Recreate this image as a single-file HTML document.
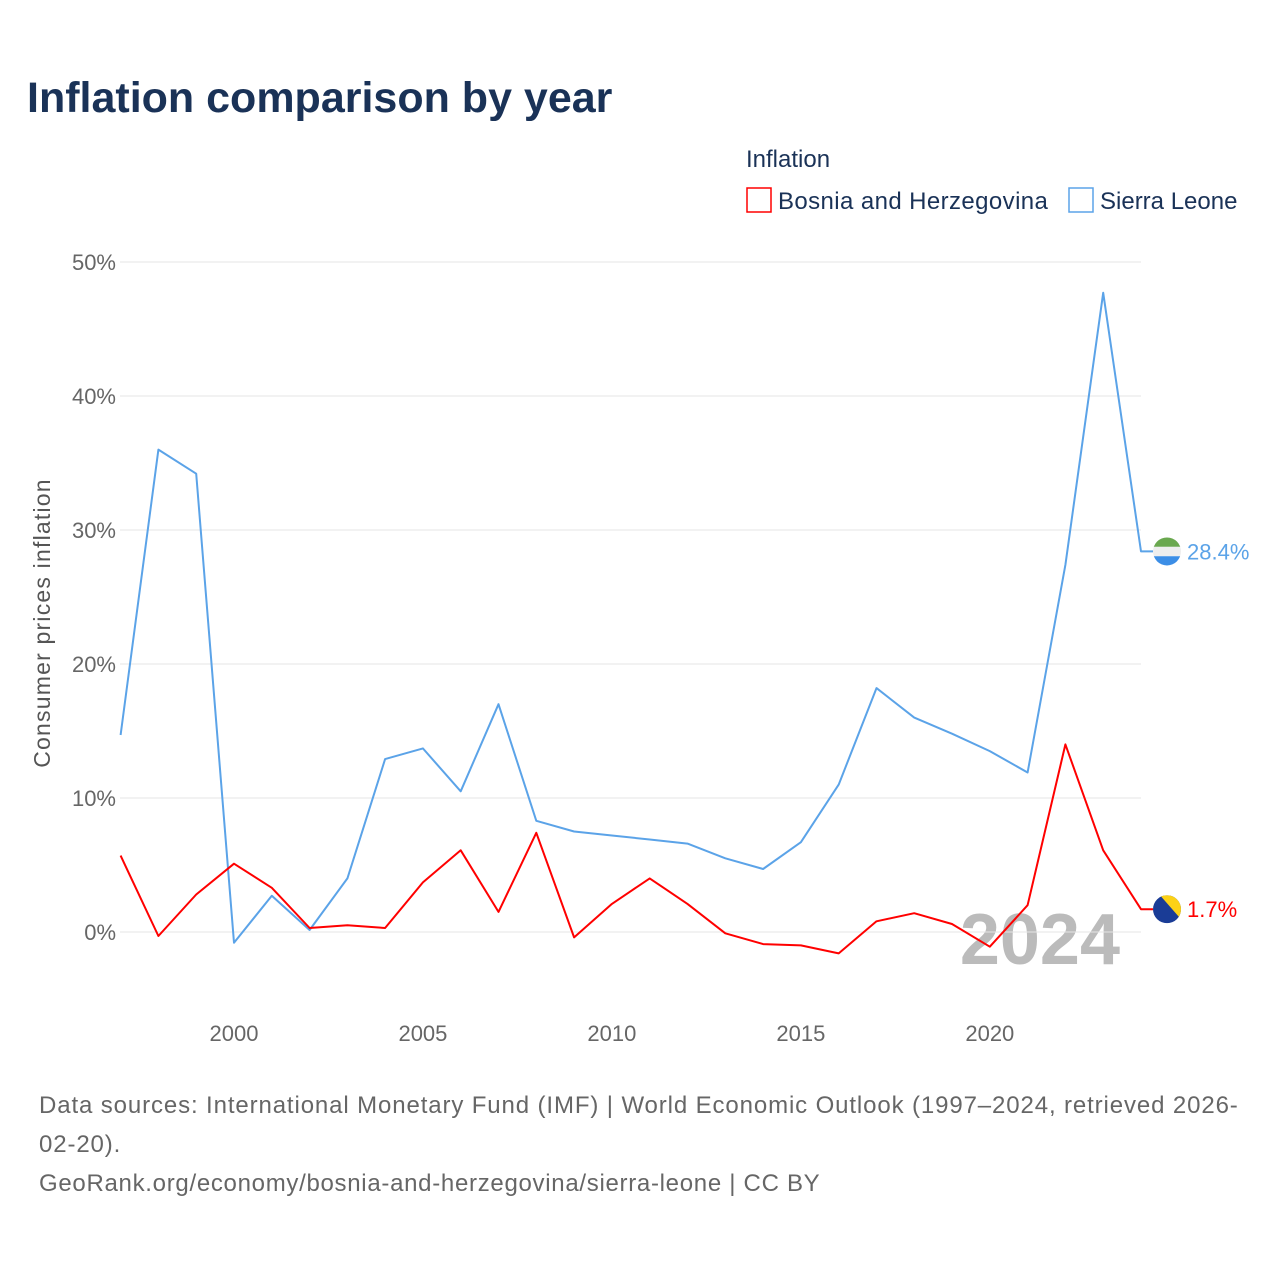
<!DOCTYPE html>
<html><head><meta charset="utf-8"><style>
body{margin:0;width:1280px;height:1280px;background:#fff;font-family:"Liberation Sans",sans-serif;overflow:hidden}
</style></head><body>
<svg id="chart" width="1280" height="1280" xmlns="http://www.w3.org/2000/svg" font-family="Liberation Sans, sans-serif">
<text x="27" y="112" font-size="43" font-weight="bold" fill="#1a3257">Inflation comparison by year</text>
<text x="746" y="167" font-size="24" fill="#1a3257">Inflation</text>
<rect x="747" y="188" width="24" height="24" fill="none" stroke="#f00" stroke-width="1.5"/>
<text x="778" y="209" font-size="24" letter-spacing="0.4" fill="#1a3257">Bosnia and Herzegovina</text>
<rect x="1069" y="188" width="24" height="24" fill="none" stroke="#5ba3e8" stroke-width="1.5"/>
<text x="1100" y="209" font-size="24" fill="#1a3257">Sierra Leone</text>
<text transform="translate(50,623) rotate(-90)" text-anchor="middle" font-size="23" letter-spacing="1.2" fill="#555">Consumer prices inflation</text>
<text x="1120" y="964" text-anchor="end" font-size="72" font-weight="bold" fill="#bbb">2024</text>
<g id="grid"></g><g id="marks"></g>
<text x="39" y="1113" font-size="24" letter-spacing="0.88" fill="#666">Data sources: International Monetary Fund (IMF) | World Economic Outlook (1997–2024, retrieved 2026-</text>
<text x="39" y="1152" font-size="24" letter-spacing="0.88" fill="#666">02-20).</text>
<text x="39" y="1191" font-size="24" letter-spacing="0.7" fill="#666">GeoRank.org/economy/bosnia-and-herzegovina/sierra-leone | CC BY</text>
</svg>
<script>
const years=[1997,1998,1999,2000,2001,2002,2003,2004,2005,2006,2007,2008,2009,2010,2011,2012,2013,2014,2015,2016,2017,2018,2019,2020,2021,2022,2023,2024];
const sierraLeone=[14.7,36.0,34.2,-0.8,2.7,0.15,4.0,12.9,13.7,10.5,17.0,8.3,7.5,7.2,6.9,6.6,5.5,4.7,6.7,11.0,18.2,16.0,14.8,13.5,11.9,27.4,47.7,28.4];
const bosnia=[5.7,-0.3,2.8,5.1,3.3,0.3,0.5,0.3,3.7,6.1,1.5,7.4,-0.4,2.1,4.0,2.1,-0.1,-0.9,-1.0,-1.6,0.8,1.4,0.6,-1.1,2.0,14.0,6.1,1.7];
const yTicks=[0,10,20,30,40,50];
const xTicks=[2000,2005,2010,2015,2020];
const NS="http://www.w3.org/2000/svg";
const xs=y=>120.6+(y-1997)*(1141-120.6)/27;
const ys=v=>932-v*13.4;
function mk(tag,attrs,parent){const e=document.createElementNS(NS,tag);for(const k in attrs)e.setAttribute(k,attrs[k]);parent.appendChild(e);return e;}
const grid=document.getElementById('grid'),marks=document.getElementById('marks');
yTicks.forEach(t=>{
 const l=mk('line',{x1:120,x2:1141,y1:ys(t),y2:ys(t),stroke:'#e6e6e6','stroke-width':1},grid);
 
 
 const tx=mk('text',{x:116,y:ys(t)+8,'text-anchor':'end','font-size':22,fill:'#666'},grid);
 tx.textContent=t+'%';
 
 
});
xTicks.forEach(t=>{
 const tx=mk('text',{x:xs(t),y:1041,'text-anchor':'middle','font-size':22,fill:'#666'},grid);
 tx.textContent=t;
 
 
});
function series(vals,color,name,label,flag){
 const d=vals.map((v,i)=>(i?'L':'M')+xs(years[i]).toFixed(1)+','+ys(v).toFixed(1)).join('')+'H1153';
 const p=mk('path',{d:d,fill:'none',stroke:color,'stroke-width':2,'stroke-linejoin':'round'},marks);
 
 
 const last=vals[vals.length-1],cy=ys(last);
 const g=mk('g',{},marks);
 
 
 const cid='c'+name;
 const cp=mk('clipPath',{id:cid},g);mk('circle',{cx:1167,cy:cy,r:14},cp);
 const gg=mk('g',{'clip-path':'url(#'+cid+')'},g);
 if(flag==='sl'){
  mk('rect',{x:1153,y:cy-14,width:28,height:9.4,fill:'#6aa84f'},gg);
  mk('rect',{x:1153,y:cy-4.6,width:28,height:9.4,fill:'#eee'},gg);
  mk('rect',{x:1153,y:cy+4.8,width:28,height:9.4,fill:'#3c8ee6'},gg);
 }else{
  mk('rect',{x:1153,y:cy-14,width:28,height:28,fill:'#1a3c96'},gg);
  mk('polygon',{points:(1160)+','+(cy-14)+' 1181,'+(cy-14)+' 1181,'+(cy+10),fill:'#fcd116'},gg);
 }
 const tx=mk('text',{x:1187,y:cy+8,'font-size':22,fill:color},marks);
 tx.textContent=label;
 
 
}
series(sierraLeone,'#5ba3e8','sierra-leone',sierraLeone[sierraLeone.length-1].toFixed(1)+'%','sl');
series(bosnia,'#f00','bosnia',bosnia[bosnia.length-1].toFixed(1)+'%','ba');
</script>
</body></html>
